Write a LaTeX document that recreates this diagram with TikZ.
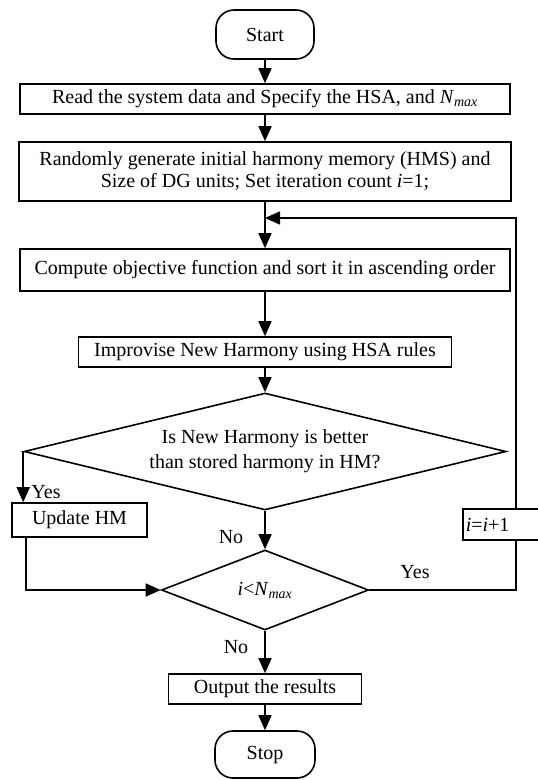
\documentclass[tikz,border=0pt]{standalone}
\usepackage{fontspec}
\setmainfont{Liberation Serif}
\usetikzlibrary{shapes.geometric,arrows.meta}
\begin{document}
\begin{tikzpicture}[x=1pt,y=-1pt,
  every node/.style={font=\fontsize{20}{25}\selectfont},
  box/.style={draw,line width=1.6pt,inner sep=0pt},
  term/.style={draw,line width=1.6pt,inner sep=0pt,rounded corners=18pt},
  dia/.style={draw,diamond,line width=1.6pt,inner sep=0pt},
  lbl/.style={inner sep=0pt},
  conn/.style={line width=1.6pt},
  arr/.style={line width=1.6pt,-{Triangle[length=15pt,width=13pt]}}]
\useasboundingbox (0,0) rectangle (538,780);
\clip (0,0) rectangle (538,780);
\node[term,minimum width=98pt,minimum height=49pt] (start) at (265,34.5) {Start};
\node[box,minimum width=490pt,minimum height=30pt] (b1) at (265,99) {Read the system data and Specify the HSA, and \textit{N}\textsubscript{\textit{max}}};
\node[box,minimum width=492pt,minimum height=59pt,align=center,font=\fontsize{20}{22}\selectfont] (b2) at (265,171.5) {Randomly generate initial harmony memory (HMS) and\\Size of DG units; Set iteration count \textit{i}=1;};
\node[box,minimum width=490pt,minimum height=42pt] (b3) at (265,270) {Compute objective function and sort it in ascending order};
\node[box,minimum width=373pt,minimum height=30pt] (b4) at (265,352) {Improvise New Harmony using HSA rules};
\node[dia,shape aspect=4.12,minimum width=482pt,minimum height=117pt,align=center] (d1) at (265,451.5) {Is New Harmony is better\\than stored harmony in HM?};
\node[box,minimum width=135pt,minimum height=34pt] (upd) at (79.5,520) {Update HM};
\node[box,anchor=west,text width=100pt,align=left,inner xsep=3pt,minimum height=31pt] (inc) at (462,524.5) {\textit{i}=\textit{i}+1};
\node[dia,shape aspect=2.6,minimum width=207pt,minimum height=80pt] (d2) at (265,590) {\textit{i}<\textit{N}\textsubscript{\textit{max}}};
\node[box,minimum width=193pt,minimum height=30pt] (out) at (265,689) {Output the results};
\node[term,minimum width=100pt,minimum height=47pt] (stop) at (265,754.5) {Stop};
\node[lbl] (yes1) at (46,492) {Yes};
\node[lbl] (no1) at (231,537) {No};
\node[lbl] (yes2) at (415,572) {Yes};
\node[lbl] (no2) at (236,647) {No};
\coordinate (j) at (265,218);
\draw[arr] (start) -- (b1);
\draw[arr] (b1) -- (b2);
\draw[arr] (b2) -- (b3);
\draw[arr] (b3) -- (b4);
\draw[arr] (b4) -- (d1);
\draw[arr] (d1.south) -- (d2.north);
\draw[arr] (d2.south) -- (out.north);
\draw[arr] (out) -- (stop);
\draw[arr] (d1.west) -- (d1.west |- upd.north);
\draw[arr] ([xshift=15pt]upd.south west) |- (d2.west);
\draw[conn] (d2.east) -| (inc.south);
\draw[arr] (inc.north) |- (j);
\end{tikzpicture}
\end{document}
